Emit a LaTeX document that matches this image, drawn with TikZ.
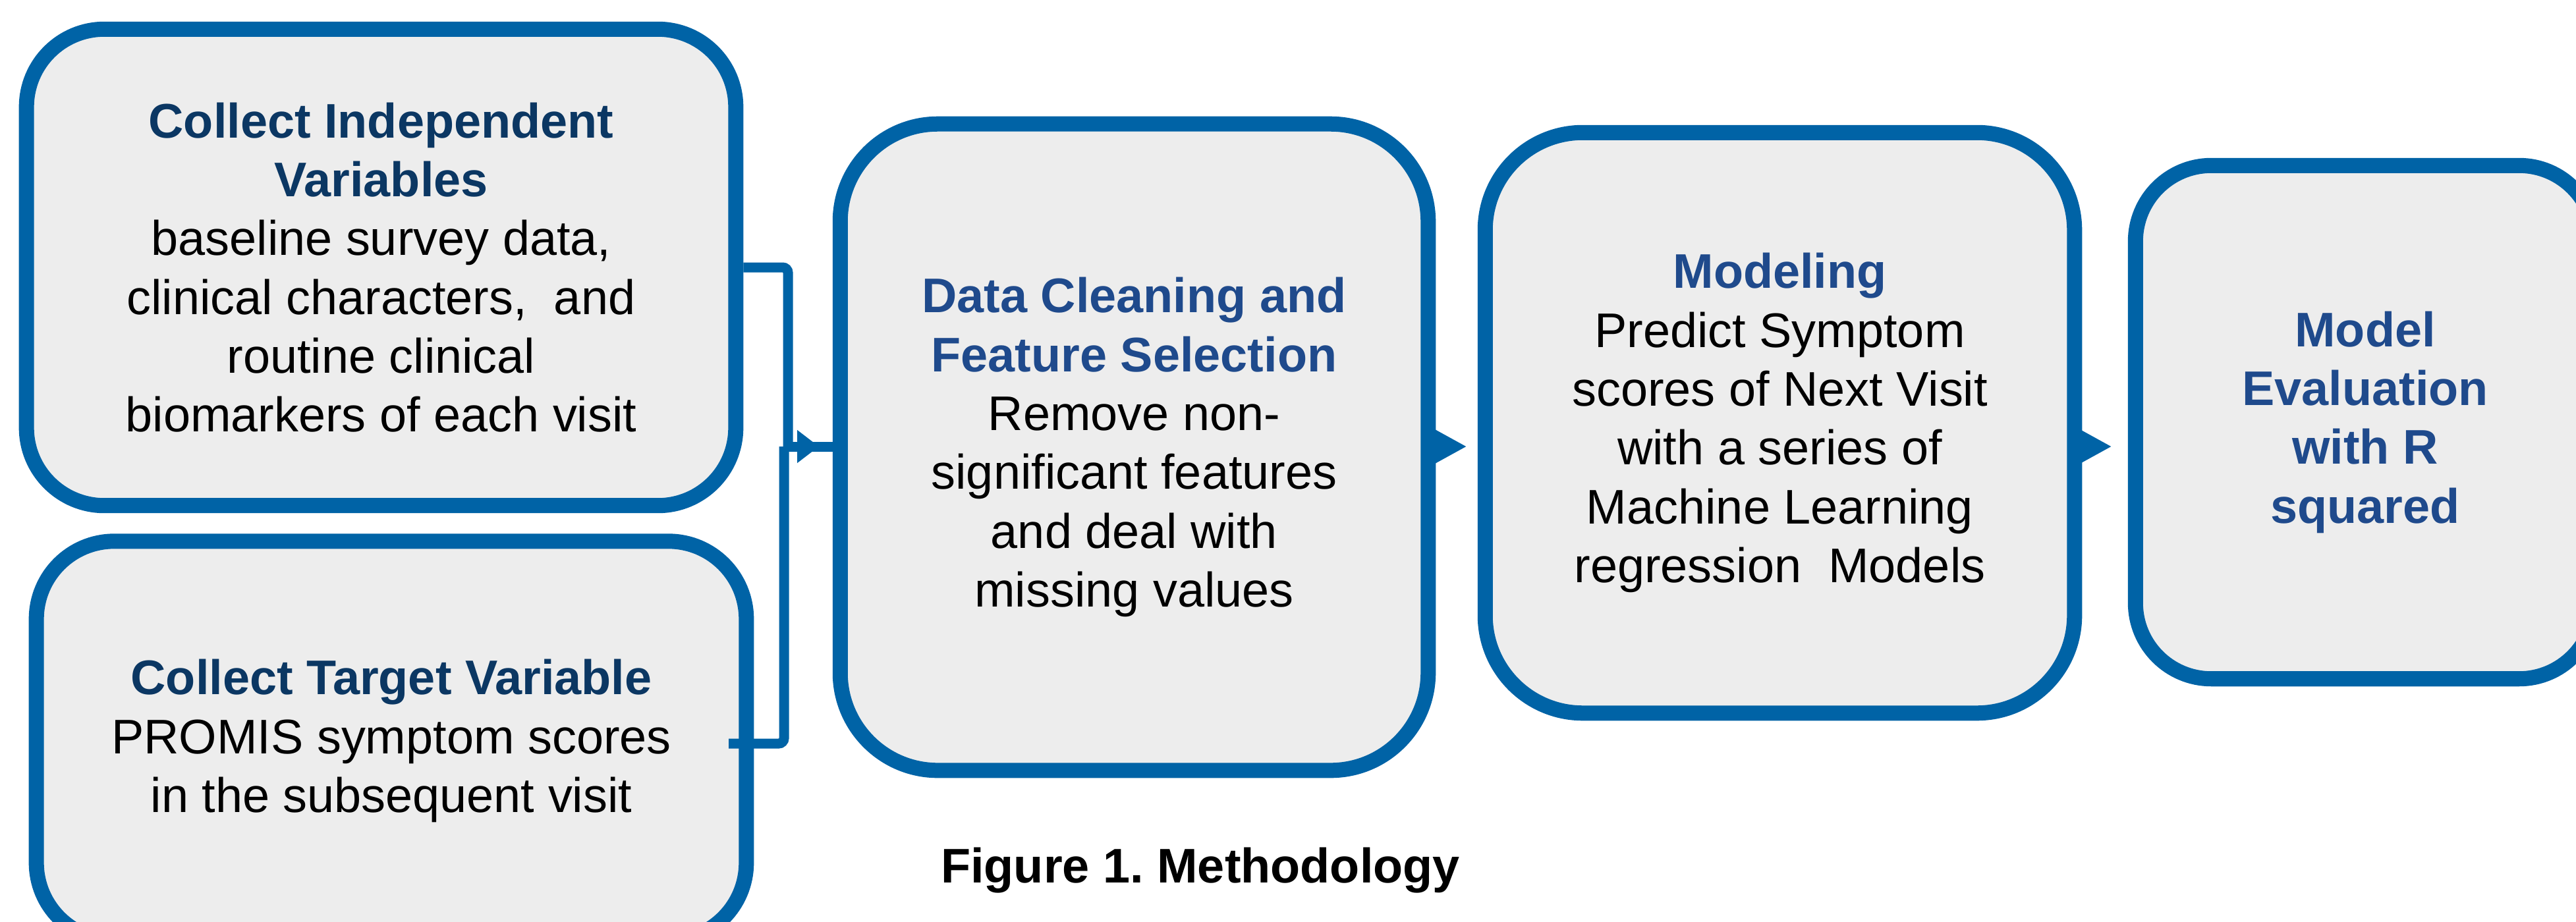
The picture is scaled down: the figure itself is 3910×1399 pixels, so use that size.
\documentclass[tikz,border=0pt]{standalone}
\usepackage{fontspec}
\setmainfont{Liberation Sans}
\usetikzlibrary{arrows.meta,decorations.markings,calc}
\frenchspacing

\definecolor{boxblue}{HTML}{0063A6}
\definecolor{boxfill}{HTML}{EDEDED}
\definecolor{navydark}{HTML}{0B3763}
\definecolor{navy}{HTML}{1F4A8C}

% headings inside the stage boxes
\newcommand{\hdA}[1]{{\bfseries\color{navydark}#1}}
\newcommand{\hdB}[1]{{\bfseries\color{navy}#1}}

\tikzset{
  stage/.style={draw=boxblue, fill=boxfill, line width=0.23cm, rectangle,
    rounded corners=#1, inner sep=0pt, align=center,
    font=\fontsize{21}{25.4}\selectfont},
  stage/.default=1.48cm,
  link/.style={draw=boxblue, line width=0.15cm},
  flowtip/.style={-{Triangle[length=0.48cm,width=0.48cm]}},
}

\begin{document}
\begin{tikzpicture}[x=0.01cm,y=-0.01cm]
  \path[use as bounding box, fill=white] (0,0) rectangle (3910,1399);

  % input stages
  \node[stage=1.18cm, minimum width=10.76cm, minimum height=7.23cm] (b1) at (578.5,406)
    {\hdA{Collect Independent}\\\hdA{Variables}\\
     baseline survey data,\\clinical characters,~ and\\routine clinical\\biomarkers of each visit};
  \node[stage=1.18cm, minimum width=10.77cm, minimum height=6.06cm] (b2) at (594,1125)
    {\hdA{Collect Target Variable}\\PROMIS symptom scores\\in the subsequent visit};

  % processing stages
  \node[stage=1.48cm, minimum width=8.92cm, minimum height=9.81cm] (b3) at (1721.5,679)
    {\hdB{Data Cleaning and}\\\hdB{Feature Selection}\\
     Remove non-\\significant features\\and deal with\\missing values};
  \node[stage=1.48cm, minimum width=8.94cm, minimum height=8.81cm] (b4) at (2701.5,642)
    {\hdB{Modeling}\\Predict Symptom\\scores of Next Visit\\with a series of\\
     Machine Learning\\regression~ Models};
  \node[stage=1.15cm, minimum width=6.97cm, minimum height=7.79cm] (b5) at (3590,641)
    {\hdB{Model}\\\hdB{Evaluation}\\\hdB{with R}\\\hdB{squared}};

  % caption
  \node[font=\fontsize{21}{25.4}\selectfont\bfseries, anchor=base, inner sep=0pt]
    (cap) at (1822,1340) {Figure 1. Methodology};

  % merging the two inputs
  \coordinate (j1) at (1196,678);
  \coordinate (j2) at (1190,678);
  \coordinate (s2) at (1106,1129);
  \draw[link, rounded corners=0.08cm] (b1.east) -| (j1);
  \draw[link, rounded corners=0.08cm] (s2) -| (j2);
  \draw[link, postaction={decorate}, decoration={markings,
      mark=at position 0.53cm with {\arrow[boxblue]{Triangle[length=0.33cm,width=0.48cm]}}}]
    (j2) -- (j2 -| b3.west);

  % stage to stage
  \draw[link, flowtip, shorten >=0.165cm] (b3.east |- j2) -- (b4.west |- j2);
  \draw[link, flowtip, shorten >=0.245cm] (b4.east |- j2) -- (b5.west |- j2);
\end{tikzpicture}
\end{document}
